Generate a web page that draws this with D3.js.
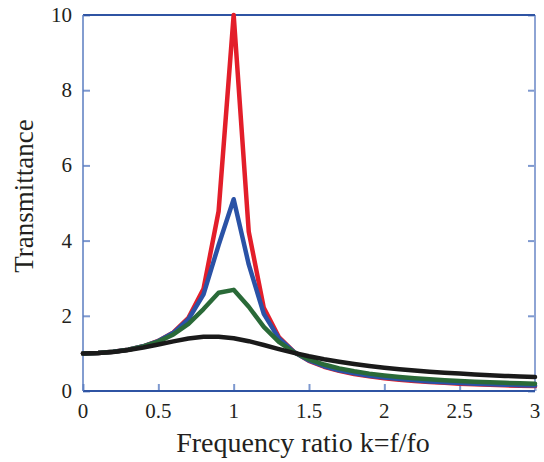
<!DOCTYPE html>
<html>
<head>
<meta charset="utf-8">
<script src="https://cdn.jsdelivr.net/npm/d3@7"></script>
<style>
  body { margin: 0; background: #fff; }
  svg { display: block; }
</style>
</head>
<body>
<div></div>
<script>
const width = 544
const height = 462
const serif = "'Liberation Serif', 'Times New Roman', Times, 'DejaVu Serif', serif"

// frequency ratio k = f/fo
const ratio = [0, 0.1, 0.2, 0.3, 0.4, 0.5, 0.6, 0.7, 0.8, 0.9, 1.0,
    1.1, 1.2, 1.3, 1.4, 1.5, 1.6, 1.7, 1.8, 1.9, 2.0,
    2.1, 2.2, 2.3, 2.4, 2.5, 2.6, 2.7, 2.8, 2.9, 3.0]

const redValues = [1, 1.01, 1.042, 1.099, 1.19, 1.332, 1.558, 1.947, 2.72, 4.78, 10.0,
    4.24, 2.21, 1.436, 1.041, 0.803, 0.646, 0.535, 0.452, 0.389, 0.339,
    0.299, 0.266, 0.239, 0.216, 0.196, 0.179, 0.165, 0.152, 0.14, 0.13]
const blueValues = [1, 1.01, 1.042, 1.099, 1.189, 1.328, 1.547, 1.909, 2.571, 3.882, 5.1,
    3.367, 2.052, 1.401, 1.039, 0.812, 0.659, 0.55, 0.469, 0.406, 0.356,
    0.316, 0.283, 0.255, 0.232, 0.212, 0.195, 0.18, 0.167, 0.156, 0.145]
const greenValues = [1, 1.01, 1.041, 1.097, 1.184, 1.314, 1.505, 1.785, 2.18, 2.611, 2.69,
    2.241, 1.704, 1.305, 1.031, 0.841, 0.704, 0.602, 0.524, 0.462, 0.413,
    0.372, 0.338, 0.31, 0.286, 0.265, 0.247, 0.231, 0.217, 0.204, 0.193]
const blackValues = [1, 1.01, 1.04, 1.089, 1.155, 1.235, 1.32, 1.395, 1.44, 1.445, 1.405,
    1.325, 1.222, 1.114, 1.014, 0.923, 0.844, 0.776, 0.717, 0.665, 0.62,
    0.581, 0.546, 0.515, 0.488, 0.463, 0.441, 0.421, 0.402, 0.386, 0.37]

const xTicks = [0, 0.5, 1, 1.5, 2, 2.5, 3]
const yTicks = [0, 2, 4, 6, 8, 10]

const series = [
    { name: 'red', values: redValues, color: '#e31e2a' },
    { name: 'blue', values: blueValues, color: '#2a52a6' },
    { name: 'green', values: greenValues, color: '#2a6a38' },
    { name: 'black', values: blackValues, color: '#1a1a1a' }
]

let svg = d3.select('div').append('svg')
    .attr('width', width)
    .attr('height', height)

const plotLeft = 83, plotRight = 535, plotTop = 15, plotBottom = 391

const x = d3.scaleLinear().domain([0, 3]).range([plotLeft, plotRight])
const y = d3.scaleLinear().domain([0, 10]).range([plotBottom, plotTop])

// ticks (inward)
const tickColor = '#7d98cf'
svg.append('g')
    .attr('transform', 'translate(0,' + plotBottom + ')')
    .call(d3.axisTop(x).tickValues(xTicks).tickSize(7).tickFormat(''))
    .call(g => g.select('.domain').remove())
    .call(g => g.selectAll('line').attr('stroke', tickColor).attr('stroke-width', 2))

svg.append('g')
    .attr('transform', 'translate(' + plotLeft + ',0)')
    .call(d3.axisRight(y).tickValues(yTicks).tickSize(7).tickFormat(''))
    .call(g => g.select('.domain').remove())
    .call(g => g.selectAll('line').attr('stroke', tickColor).attr('stroke-width', 2))

svg.append('g')
    .attr('transform', 'translate(' + plotRight + ',0)')
    .call(d3.axisLeft(y).tickValues(yTicks).tickSize(7).tickFormat(''))
    .call(g => g.select('.domain').remove())
    .call(g => g.selectAll('line').attr('stroke', tickColor).attr('stroke-width', 2))

// frame
svg.append('line').attr('x1', plotRight).attr('x2', plotRight).attr('y1', plotTop).attr('y2', plotBottom)
    .attr('stroke', '#8ea4d4').attr('stroke-width', 2)
svg.append('line').attr('x1', plotLeft).attr('x2', plotRight).attr('y1', plotTop).attr('y2', plotTop)
    .attr('stroke', '#2f54a3').attr('stroke-width', 2)
svg.append('line').attr('x1', plotLeft).attr('x2', plotRight).attr('y1', plotBottom).attr('y2', plotBottom)
    .attr('stroke', '#2f54a3').attr('stroke-width', 2)
svg.append('line').attr('x1', plotLeft).attr('x2', plotLeft).attr('y1', plotTop).attr('y2', plotBottom)
    .attr('stroke', '#5a7cc0').attr('stroke-width', 1.5)

// curves
const line = d3.line()
    .x((d, i) => x(ratio[i]))
    .y(d => y(d))

svg.selectAll('path.curve')
    .data(series)
    .enter()
    .append('path')
    .attr('class', 'curve')
    .attr('d', d => line(d.values))
    .attr('fill', 'none')
    .attr('stroke', d => d.color)
    .attr('stroke-width', 4.5)
    .attr('stroke-linejoin', 'round')
    .attr('stroke-linecap', 'round')

// tick labels
svg.selectAll('text.xlab')
    .data(xTicks)
    .enter()
    .append('text')
    .attr('class', 'xlab')
    .attr('x', d => x(d))
    .attr('y', 418)
    .attr('text-anchor', 'middle')
    .attr('font-family', serif)
    .attr('font-size', 21)
    .attr('fill', '#231f20')
    .text(d => d)

svg.selectAll('text.ylab')
    .data(yTicks)
    .enter()
    .append('text')
    .attr('class', 'ylab')
    .attr('x', 72)
    .attr('y', d => y(d) + 7)
    .attr('text-anchor', 'end')
    .attr('font-family', serif)
    .attr('font-size', 21)
    .attr('fill', '#231f20')
    .text(d => d)

// axis titles
svg.append('text')
    .attr('x', 303)
    .attr('y', 452)
    .attr('text-anchor', 'middle')
    .attr('font-family', serif)
    .attr('font-size', 28)
    .attr('fill', '#231f20')
    .text('Frequency ratio k=f/fo')

svg.append('text')
    .attr('transform', 'translate(33,196) rotate(-90)')
    .attr('text-anchor', 'middle')
    .attr('font-family', serif)
    .attr('font-size', 27)
    .attr('fill', '#231f20')
    .text('Transmittance')
</script>
</body>
</html>
